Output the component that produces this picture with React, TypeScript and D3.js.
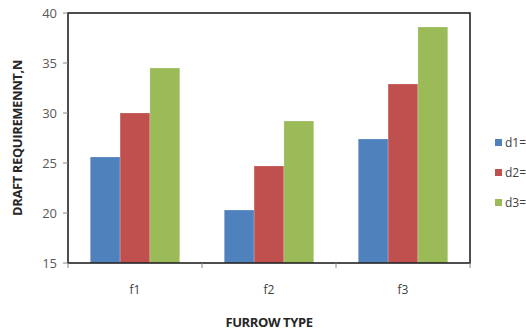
import React from "react";
import * as d3 from "d3";

const CATEGORIES = ["f1", "f2", "f3"];
const SERIES = ["d1=", "d2=", "d3="];
const COLORS = ["#4F81BD", "#C0504D", "#9BBB59"];
const D1 = [25.6, 20.3, 27.4];
const D2 = [30.0, 24.7, 32.9];
const D3 = [34.5, 29.2, 38.6];
const Y_TICKS = [15, 20, 25, 30, 35, 40];

const W = 526;
const H = 335;
const FONT = "'Open Sans', 'Liberation Sans', sans-serif";

export default function App() {
  const left = 68, right = 470, top = 13, bottom = 263;
  const values = [D1, D2, D3];

  const x0 = d3.scaleBand().domain(CATEGORIES).range([left, right]);
  const x1 = d3
    .scaleBand()
    .domain(SERIES)
    .range([0, x0.bandwidth()])
    .paddingOuter(0.745)
    .paddingInner(0);
  const y = d3.scaleLinear().domain([15, 40]).range([bottom, top]);

  const boundaries = [left, ...CATEGORIES.map((c) => (x0(c) as number) + x0.bandwidth())];

  return (
    <svg
      width={W}
      height={H}
      style={{ position: "absolute", left: 0, top: 0, background: "#fff" }}
    >
      {/* bars */}
      {CATEGORIES.map((c, ci) => (
        <g key={c} transform={`translate(${x0(c)},0)`}>
          {SERIES.map((s, si) => (
            <rect
              key={s}
              x={x1(s)}
              y={y(values[si][ci])}
              width={x1.bandwidth()}
              height={bottom - y(values[si][ci])}
              fill={COLORS[si]}
              stroke="#fff"
              strokeOpacity={0.4}
              strokeWidth={0.5}
            />
          ))}
        </g>
      ))}

      {/* plot border */}
      <rect
        x={left}
        y={top}
        width={right - left}
        height={bottom - top}
        fill="none"
        stroke="#222"
        strokeWidth={1.6}
      />

      {/* y ticks */}
      {Y_TICKS.map((t) => (
        <g key={t}>
          <line x1={left - 5} x2={left} y1={y(t)} y2={y(t)} stroke="#888" />
          <text
            x={57}
            y={y(t)}
            dy="0.35em"
            textAnchor="end"
            fontSize={13}
            fill="#595959"
            fontFamily={FONT}
          >
            {t}
          </text>
        </g>
      ))}

      {/* x ticks */}
      {boundaries.map((b, i) => (
        <line key={i} x1={b} x2={b} y1={bottom} y2={bottom + 5} stroke="#888" />
      ))}
      {CATEGORIES.map((c) => (
        <text
          key={c}
          x={(x0(c) as number) + x0.bandwidth() / 2}
          y={294}
          textAnchor="middle"
          fontSize={12}
          fill="#404040"
          fontFamily={FONT}
        >
          {c}
        </text>
      ))}

      {/* axis titles */}
      <text
        x={269}
        y={327}
        textAnchor="middle"
        fontSize={13}
        fontWeight={700}
        fill="#262626"
        fontFamily={FONT}
        letterSpacing={-0.4}
      >
        FURROW TYPE
      </text>
      <text
        transform={`translate(22,138) rotate(-90)`}
        textAnchor="middle"
        fontSize={13}
        fontWeight={700}
        fill="#262626"
        fontFamily={FONT}
        letterSpacing={-0.4}
      >
        DRAFT REQUIREMENNT,N
      </text>

      {/* legend */}
      {SERIES.map((s, i) => (
        <g key={s} transform={`translate(495,${143 + i * 30})`}>
          <rect x={0} y={-4} width={7} height={7} fill={COLORS[i]} />
          <text x={10} y={0} dy="0.35em" fontSize={12} fill="#404040" fontFamily={FONT}>
            {s}
          </text>
        </g>
      ))}
    </svg>
  );
}
